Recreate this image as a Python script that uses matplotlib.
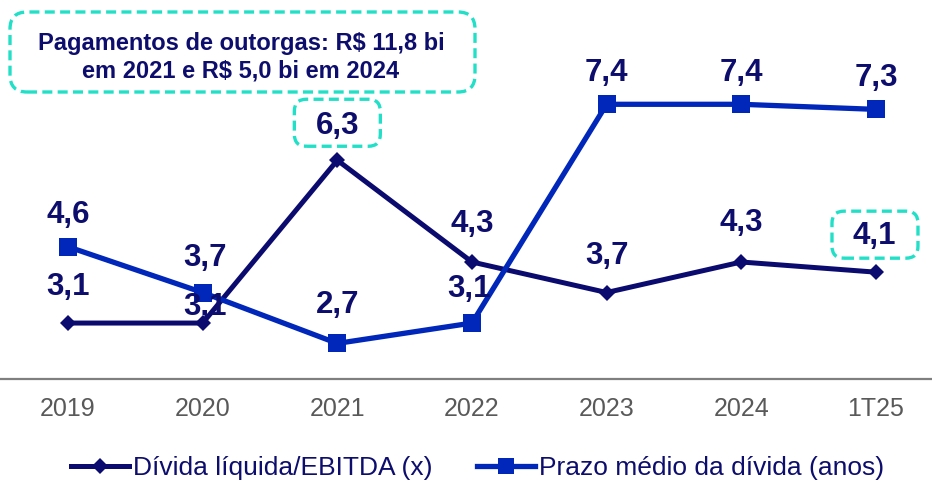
import matplotlib
matplotlib.use("Agg")
import matplotlib.pyplot as plt
from matplotlib.patches import FancyBboxPatch
from matplotlib.transforms import ScaledTranslation
from matplotlib.lines import Line2D

plt.rcParams['font.family'] = ['Liberation Sans', 'DejaVu Sans']

categories = ["2019", "2020", "2021", "2022", "2023", "2024", "1T25"]
divida_ebitda = [3.1, 3.1, 6.3, 4.3, 3.7, 4.3, 4.1]
prazo_medio = [4.6, 3.7, 2.7, 3.1, 7.4, 7.4, 7.3]
divida_labels = ["3,1", "3,1", "6,3", "4,3", "3,7", "4,3", "4,1"]
prazo_labels = ["4,6", "3,7", "2,7", "3,1", "7,4", "7,4", "7,3"]
series_names = ["Dívida líquida/EBITDA (x)", "Prazo médio da dívida (anos)"]
note_text = "Pagamentos de outorgas: R$ 11,8 bi\nem 2021 e R$ 5,0 bi em 2024"

NAVY = '#0B0B6F'
BLUE = '#0027B9'
TEAL = '#22E0C8'
LABEL = '#0D0D6E'
GRAY = '#595959'

fig = plt.figure(figsize=(9.32, 4.83), dpi=100)
ax = fig.add_axes([0, 0.2153, 1, 0.7847])
ax.set_xlim(-0.505, 6.416)
ax.set_ylim(2, 9.45)

x = list(range(len(categories)))
ax.plot(x, divida_ebitda, color=NAVY, lw=3.6, marker='D', ms=8.5, mew=0, zorder=3,
        label=series_names[0])
ax.plot(x, prazo_medio, color=BLUE, lw=3.8, marker='s', ms=13.5, mew=0, zorder=4,
        label=series_names[1])

# label offsets (px above point, baseline)
div_off = [28, 8, 26, 30, 29, 31, 28]
div_dx = [0, 2, 0, 0, 0, 0, -2]
pra_off = [24, 27, 30, 26, 23, 23, 23]
pra_dx = [0, 2, 0, -3, 0, 0, 0]
for i in x:
    ax.annotate(divida_labels[i], (i, divida_ebitda[i]),
                xytext=(div_dx[i] * 0.72, div_off[i] * 0.72), textcoords='offset points',
                ha='center', va='baseline', fontsize=22.5, fontweight='bold', color=LABEL, zorder=5)
    ax.annotate(prazo_labels[i], (i, prazo_medio[i]),
                xytext=(pra_dx[i] * 0.72, pra_off[i] * 0.72), textcoords='offset points',
                ha='center', va='baseline', fontsize=22.5, fontweight='bold', color=LABEL, zorder=5)

# dashed boxes around highlighted labels
for i in (2, 6):
    tr = fig.dpi_scale_trans + ScaledTranslation(i, divida_ebitda[i], ax.transData)
    box = FancyBboxPatch((-0.43 + (0.0 if i == 2 else -0.01), 0.14), 0.86, 0.47,
                         boxstyle='round,pad=0,rounding_size=0.12',
                         transform=tr, fill=False, ec=TEAL, lw=2.4,
                         linestyle=(0, (3, 1.6)), zorder=6, clip_on=False)
    ax.add_patch(box)

# big note box
big = FancyBboxPatch((0.10, 3.91), 4.65, 0.80, boxstyle='round,pad=0,rounding_size=0.17',
                     transform=fig.dpi_scale_trans, fill=False, ec=TEAL, lw=2.4,
                     linestyle=(0, (3, 1.6)), zorder=6)
fig.add_artist(big)
fig.text(241 / 932, 1 - 57 / 483, note_text, ha='center', va='center', ma='center',
         fontsize=17, fontweight='bold', color=LABEL, linespacing=1.25)

for s in ['top', 'left', 'right']:
    ax.spines[s].set_visible(False)
ax.spines['bottom'].set_color('#7f7f7f')
ax.spines['bottom'].set_linewidth(1.6)
ax.set_yticks([])
ax.set_xticks(x, categories)
ax.tick_params(axis='x', length=0, pad=13, labelsize=18, labelcolor=GRAY)

handles = [Line2D([], [], color=NAVY, lw=3.6, marker='D', ms=8, mew=0),
           Line2D([], [], color=BLUE, lw=3.8, marker='s', ms=11, mew=0)]
fig.legend(handles, series_names, loc='center', bbox_to_anchor=(0.5123, 0.031), ncol=2,
           frameon=False, fontsize=19, handlelength=2.2, handletextpad=0.15,
           columnspacing=1.7, labelcolor=LABEL, borderpad=0, borderaxespad=0)

fig.savefig('out.png', dpi=100)
